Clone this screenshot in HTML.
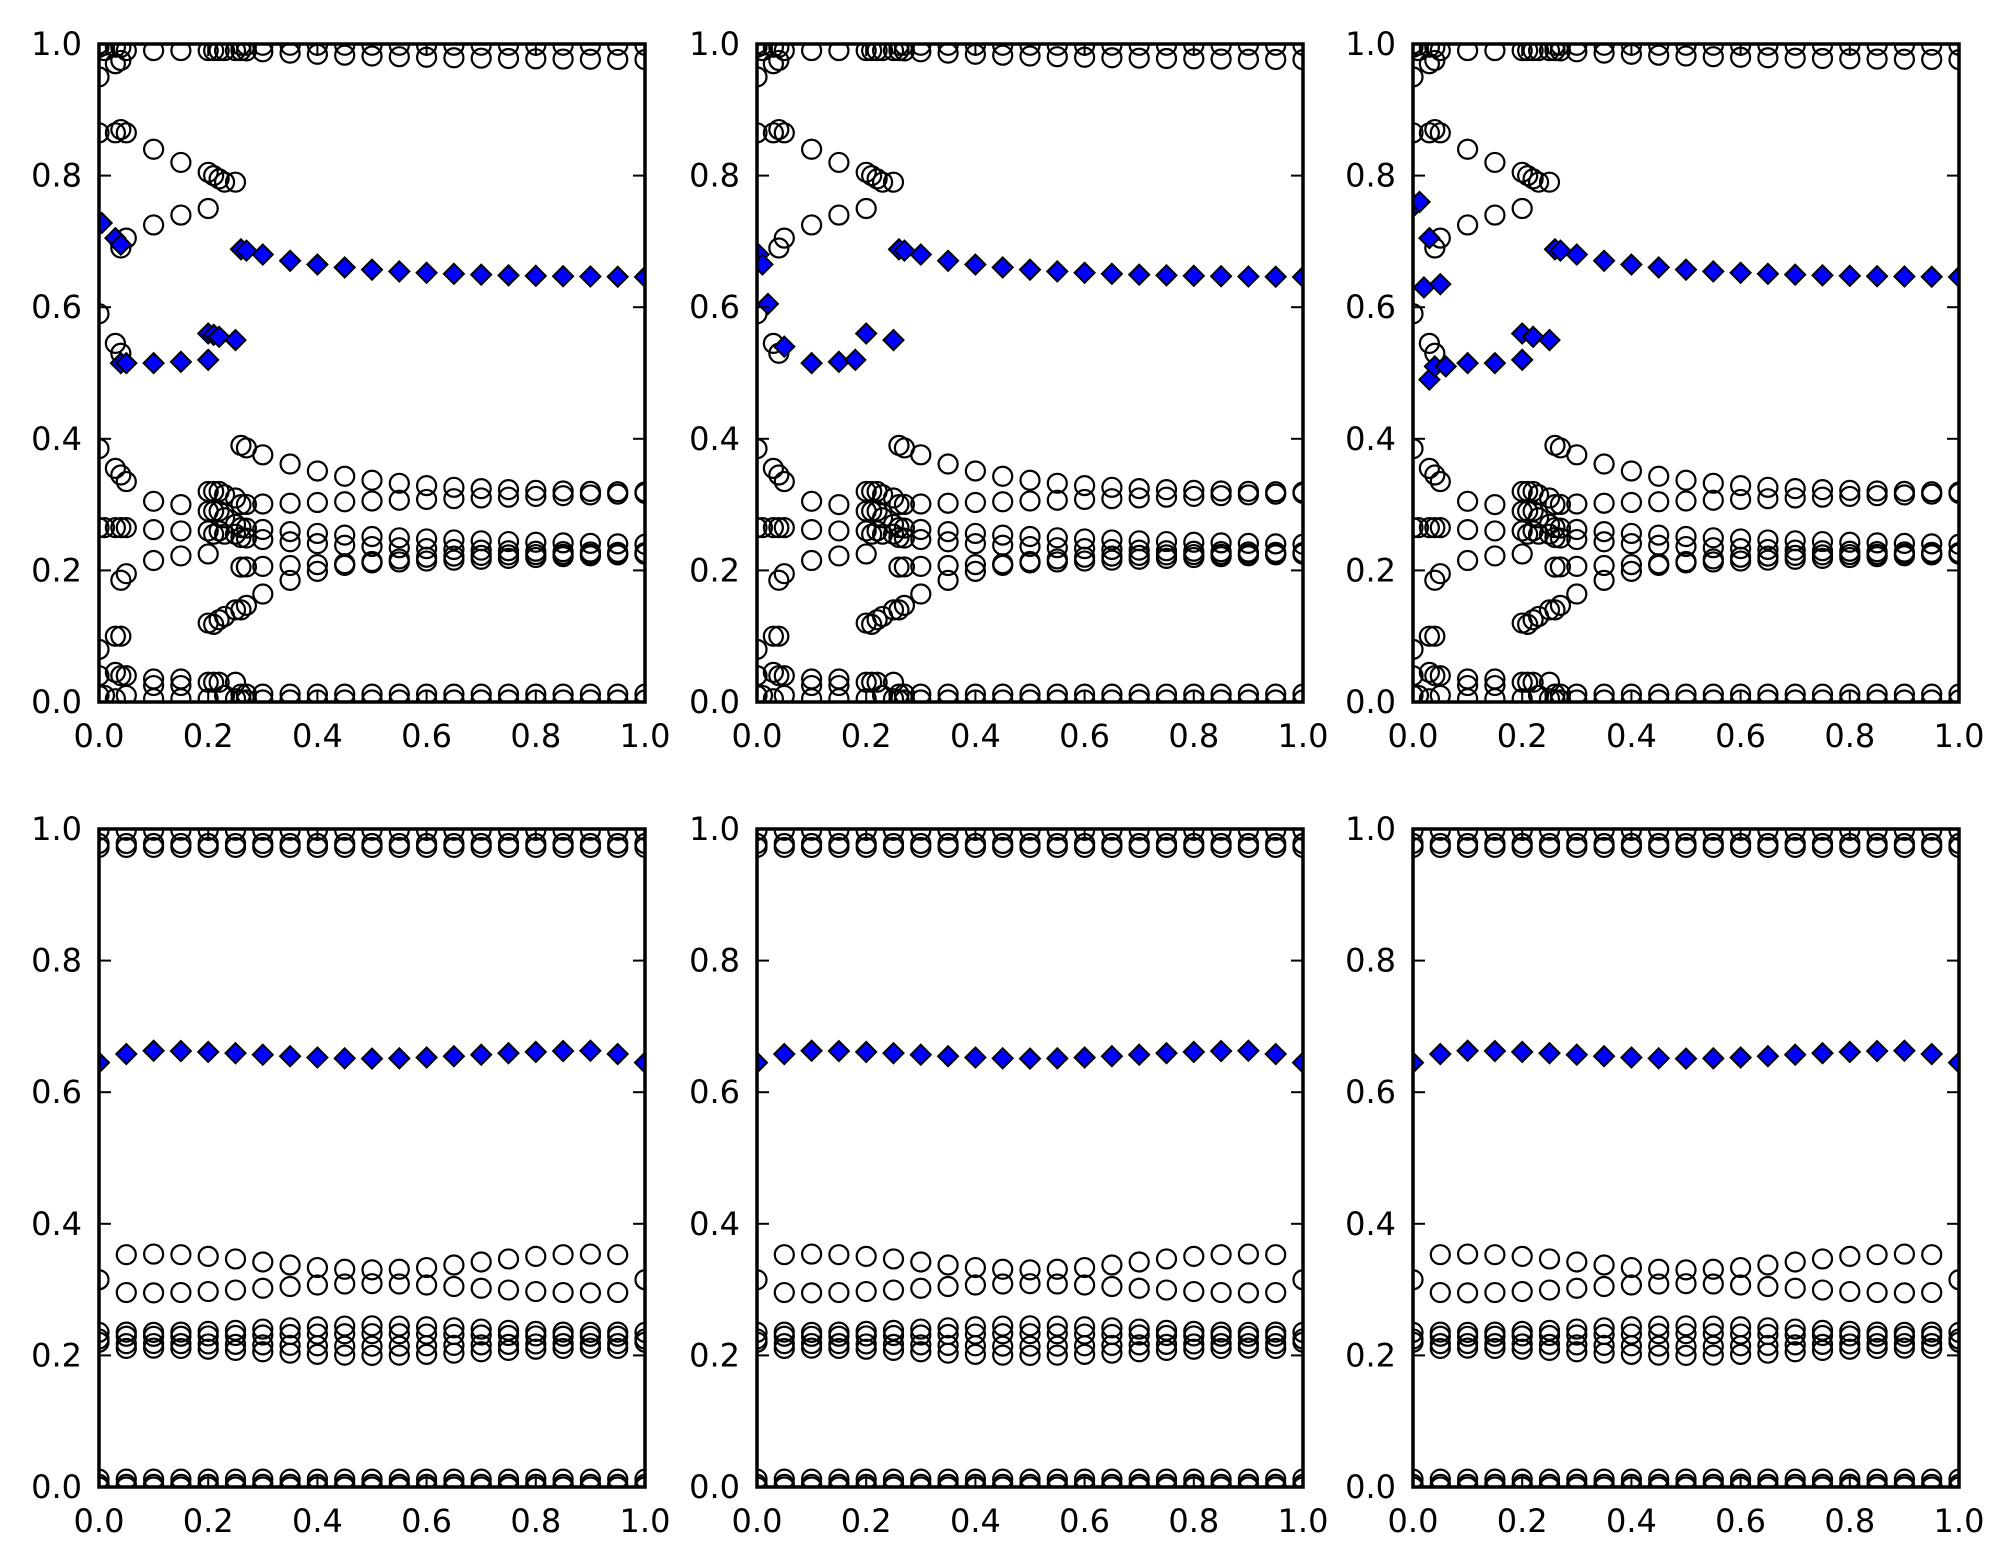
<!DOCTYPE html>
<html><head><meta charset="utf-8"><style>
html,body{margin:0;padding:0;background:#fff;}
svg{display:block;}
text{font-family:"DejaVu Sans","Liberation Sans",sans-serif;font-size:32px;fill:#000;}
</style></head><body>
<svg id="s" width="2011" height="1565" viewBox="0 0 2011 1565" xmlns="http://www.w3.org/2000/svg"></svg>
<script>
const S=document.getElementById('s');
const NS='http://www.w3.org/2000/svg';
const W=546,H=658;
const panels=[[99,44],[757,44],[1413,44],[99,829],[757,829],[1413,829]];
function el(t,a,p){const e=document.createElementNS(NS,t);for(const k in a)e.setAttribute(k,a[k]);(p||S).appendChild(e);return e;}
const R=9.5;
function topData(variant){
 const C=[],D=[];
 const early={0:[.95,.865,.59,.385,.265,.08,.04,.01,1.0,.995],0.01:[.99,.998,.265,.01],0.03:[.97,.865,.545,.355,.265,.1,.045,.005,.995],
 0.04:[.975,.87,.69,.53,.345,.265,.185,.1,.04,.995],0.05:[.99,.865,.705,.335,.265,.195,.04,.01],
 0.1:[.99,.84,.725,.305,.262,.215,.035,.025,.005],0.15:[.99,.82,.74,.3,.26,.222,.035,.025,.005],
 0.2:[.99,.805,.75,.32,.29,.26,.225,.12,.03,.005],0.21:[.99,.80,.32,.29,.255,.118,.03],0.22:[.99,.795,.32,.29,.26,.125,.03],
 0.23:[.99,.79,.315,.28,.255,.13,.01],0.25:[.99,.79,.31,.27,.255,.14,.03,.005]};
 for(const k in early)for(const y of early[k])C.push([+k,y]);
 const xs=[0.26,0.27,0.3];for(let i=7;i<=20;i++)xs.push(i*0.05);
 for(const x of xs){
  const d=x-0.26;
  C.push([x,0.998],[x,0.975+0.015*Math.exp(-d/0.3)]);
  C.push([x,0.318+0.072*Math.exp(-d/0.18)]);
  C.push([x,0.30+0.017*d/0.74]);
  C.push([x,0.235+0.03*Math.exp(-d/0.4)]);
  C.push([x,0.225+0.025*Math.exp(-d/0.3)]);
  C.push([x,0.205+0.02*d/0.74]);
  C.push([x,0.225-0.085*Math.exp(-d/0.12)]);
  C.push([x,0.003],[x,0.012]);
  if(x>0.3)D.push([x,0.645+0.04*Math.exp(-d/0.2)]);
 }
 D.push([0.26,0.688],[0.27,0.686],[0.3,0.68]);
 if(variant==0)D.push([0.005,0.728],[0.03,0.705],[0.04,0.695],[0.04,0.515],[0.05,0.515],[0.1,0.515],[0.15,0.517],[0.2,0.52],[0.2,0.56],[0.21,0.558],[0.22,0.555],[0.25,0.55]);
 if(variant==1)D.push([0.003,0.68],[0.01,0.665],[0.02,0.605],[0.05,0.54],[0.1,0.515],[0.15,0.517],[0.18,0.52],[0.2,0.56],[0.25,0.55]);
 if(variant==2)D.push([0.003,0.755],[0.012,0.76],[0.03,0.705],[0.02,0.63],[0.05,0.635],[0.03,0.49],[0.04,0.51],[0.06,0.51],[0.1,0.515],[0.15,0.515],[0.2,0.52],[0.2,0.56],[0.22,0.555],[0.25,0.55]);
 return [C,D];
}
function botData(){
 const C=[],D=[];
 for(let i=0;i<=20;i++){
  const x=i*0.05;
  C.push([x,0.998],[x,0.978],[x,0.972],[x,0.0],[x,0.004],[x,0.012]);
  if(i==0||i==20){C.push([x,0.315],[x,0.235],[x,0.225],[x,0.22]);D.push([x,0.645]);continue;}
  const c=Math.cos(2*Math.PI*(x-0.1)/0.8);
  C.push([x,0.342+0.012*c],[x,0.302-0.007*c]);
  const sp=1-0.5*(c+1)/2;
  C.push([x,0.225+0.02*sp],[x,0.225+0.008*sp],[x,0.222-0.008*sp],[x,0.222-0.022*sp]);
  D.push([x,(i==1||i==19)?0.658:0.657+0.006*c]);
 }
 return [C,D];
}
panels.forEach((p,idx)=>{
 const [x0,y0]=p;
 const X=v=>x0+v*W,Y=v=>y0+H-v*H;
 const cid='c'+idx;
 const cp=el('clipPath',{id:cid});el('rect',{x:x0,y:y0,width:W,height:H},cp);
 const g=el('g',{'clip-path':'url(#'+cid+')'});
 const [C,D]=idx<3?topData(idx):botData();
 for(const [x,y] of C)el('circle',{cx:X(x),cy:Y(y),r:R,fill:'none',stroke:'#000','stroke-width':2.2},g);
 for(const [x,y] of D){const cx=X(x),cy=Y(y),r=10;el('polygon',{points:`${cx},${cy-r} ${cx+r},${cy} ${cx},${cy+r} ${cx-r},${cy}`,fill:'#0000ff',stroke:'#000','stroke-width':2},g);}
 for(let i=0;i<=5;i++){
  const v=i*0.2,tx=X(v),ty=Y(v);
  el('line',{x1:tx,y1:y0+H,x2:tx,y2:y0+H-12,stroke:'#000','stroke-width':2});
  el('line',{x1:tx,y1:y0,x2:tx,y2:y0+12,stroke:'#000','stroke-width':2});
  el('line',{x1:x0,y1:ty,x2:x0+12,y2:ty,stroke:'#000','stroke-width':2});
  el('line',{x1:x0+W,y1:ty,x2:x0+W-12,y2:ty,stroke:'#000','stroke-width':2});
  const lab=v.toFixed(1);
  el('text',{x:tx,y:y0+H+45,'text-anchor':'middle'}).textContent=lab;
  el('text',{x:x0-17,y:ty+11,'text-anchor':'end'}).textContent=lab;
 }
 el('rect',{x:x0,y:y0,width:W,height:H,fill:'none',stroke:'#000','stroke-width':3.5});
});
</script>
</body></html>
